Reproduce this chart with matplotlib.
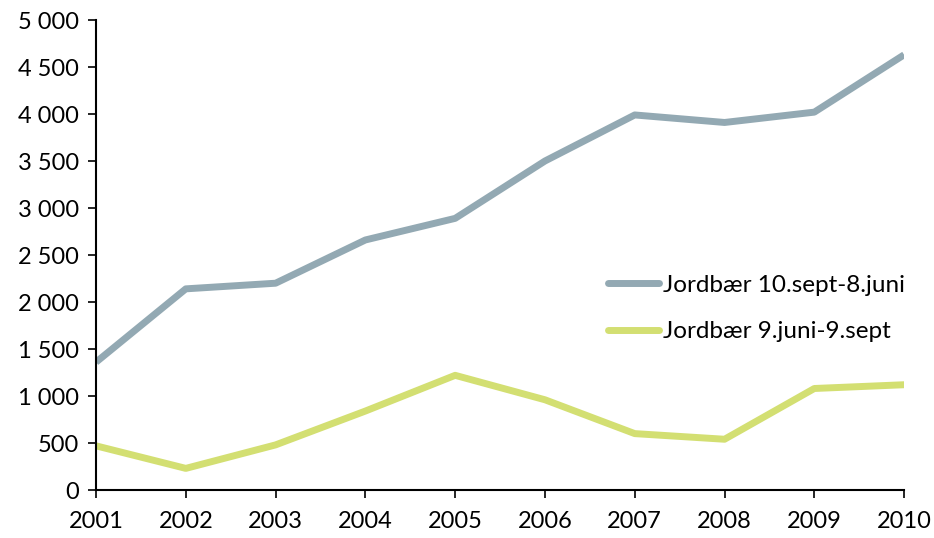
import matplotlib
matplotlib.use('Agg')
import matplotlib.pyplot as plt
from matplotlib.ticker import FuncFormatter

years = [2001, 2002, 2003, 2004, 2005, 2006, 2007, 2008, 2009, 2010]
winter = [1360, 2140, 2200, 2660, 2890, 3500, 3990, 3910, 4020, 4630]
summer = [470, 230, 480, 840, 1220, 960, 600, 540, 1080, 1120]
labels = ['Jordbær 10.sept-8.juni', 'Jordbær 9.juni-9.sept']

plt.rcParams['font.family'] = ['Lato', 'DejaVu Sans']

fig = plt.figure(figsize=(9.34, 5.38), dpi=100)
ax = fig.add_axes([0.1028, 0.0892, 0.8652, 0.8736])

ax.plot(years, winter, color='#93a9b3', lw=5, label=labels[0], solid_capstyle='butt')
ax.plot(years, summer, color='#d3df72', lw=5, label=labels[1], solid_capstyle='butt')

ax.set_xlim(2001, 2010)
ax.set_ylim(0, 5000)
ax.set_xticks(years)
ax.set_yticks(range(0, 5001, 500))
ax.yaxis.set_major_formatter(FuncFormatter(lambda v, p: f'{int(v):,}'.replace(',', ' ')))

for s in ['top', 'right']:
    ax.spines[s].set_visible(False)
for s in ['left', 'bottom']:
    ax.spines[s].set_linewidth(1.5)
    ax.spines[s].set_color('black')
ax.tick_params(axis='both', direction='out', length=6, width=1.2, labelsize=17, colors='black')
ax.tick_params(axis='x', pad=9)
ax.tick_params(axis='y', pad=6)

leg = ax.legend(loc='upper left', bbox_to_anchor=(0.634, 0.458), frameon=False, fontsize=17.5,
                handlelength=2.1, handletextpad=0.15, labelspacing=1.05, borderpad=0, borderaxespad=0)
for h in leg.get_lines():
    h.set_solid_capstyle('round')

fig.savefig('out.png', dpi=100)
